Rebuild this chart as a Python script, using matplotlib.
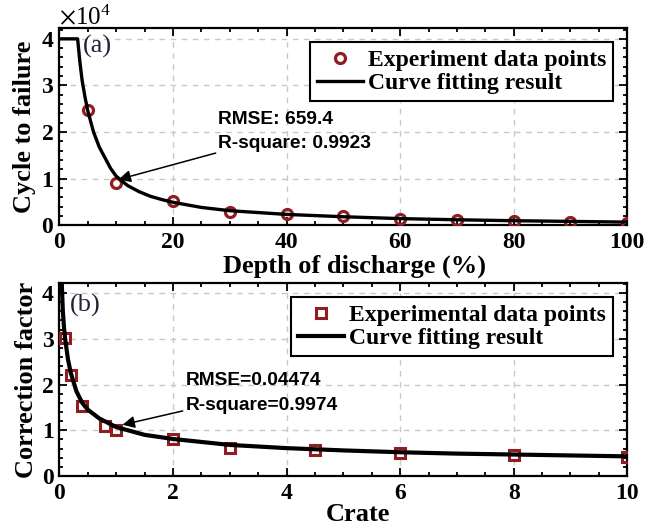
import matplotlib
matplotlib.use('Agg')
import matplotlib.pyplot as plt
from matplotlib.ticker import MultipleLocator, ScalarFormatter

plt.rcParams['font.family'] = 'Liberation Serif'
plt.rcParams['mathtext.fontset'] = 'stix'

# (a) cycle life vs depth of discharge
dod = [5, 10, 20, 30, 40, 50, 60, 70, 80, 90, 100]
cycles = [24700, 9000, 5200, 2800, 2400, 2000, 1300, 1100, 900, 700, 500]
fit_dod = [0, 3.2, 3.6, 4, 4.5, 5, 6, 7, 8, 9, 10, 12, 14, 16, 18, 20, 25, 30,
           35, 40, 50, 60, 70, 80, 90, 100]
fit_cycles = [40000, 40000, 35000, 31000, 27500, 24500, 20000, 16800, 14500,
              12200, 10500, 8500, 7200, 6200, 5500, 4900, 3800, 3100, 2700,
              2300, 1800, 1400, 1150, 950, 800, 650]

# (b) correction factor vs C-rate
crate = [0.1, 0.2, 0.4, 0.8, 1, 2, 3, 4.5, 6, 8, 10]
factor = [3.02, 2.2, 1.52, 1.1, 1.0, 0.82, 0.62, 0.56, 0.51, 0.47, 0.41]
fit_crate = [0.04, 0.06, 0.08, 0.1, 0.15, 0.2, 0.3, 0.4, 0.5, 0.7, 1.0, 1.5,
             2, 3, 4, 5, 6, 7, 8, 9, 10]
fit_factor = [4.25, 3.6, 3.25, 3.0, 2.55, 2.25, 1.85, 1.6, 1.45, 1.26, 1.07,
              0.9, 0.81, 0.68, 0.61, 0.56, 0.52, 0.49, 0.47, 0.45, 0.43]

red = '#8f1d21'
lab = dict(fontsize=19, fontweight='bold')

fig = plt.figure(figsize=(6.68, 5.26), dpi=100)
ax1 = fig.add_axes([0.089, 0.572, 0.850, 0.3745])
ax2 = fig.add_axes([0.089, 0.095, 0.850, 0.367])


def style(ax):
    ax.grid(True, which='major', color='#c8c8c8', linestyle=(0, (4, 4)), lw=1)
    ax.set_axisbelow(True)
    ax.tick_params(which='both', direction='in', top=True, right=True,
                   width=1.3, labelsize=17)
    ax.tick_params(which='major', length=6)
    ax.tick_params(which='minor', length=3)
    ax.tick_params(axis='x', pad=5)
    ax.tick_params(axis='y', pad=4)
    for s in ax.spines.values():
        s.set_linewidth(1.6)
    for t in ax.get_xticklabels() + ax.get_yticklabels():
        t.set_fontweight('bold')


def legend(ax):
    leg = ax.legend(loc='upper right', prop=dict(weight='bold', size=17),
                    frameon=True, fancybox=False, edgecolor='k', framealpha=1,
                    handlelength=1.95, handletextpad=0.2, borderpad=0.3,
                    labelspacing=0.08, borderaxespad=0.6)
    leg.get_frame().set_linewidth(1.5)


# top panel
ax1.plot(dod, cycles, 'o', ms=7.2, mfc='none', mec=red, mew=2.3,
         label='Experiment data points', zorder=3)
ax1.plot(fit_dod, fit_cycles, '-', color='k', lw=2.4,
         label='Curve fitting result', zorder=4)
ax1.set_xlim(0, 100)
ax1.set_ylim(0, 42300)
ax1.xaxis.set_major_locator(MultipleLocator(20))
ax1.xaxis.set_minor_locator(MultipleLocator(5))
ax1.yaxis.set_major_locator(MultipleLocator(10000))
ax1.yaxis.set_minor_locator(MultipleLocator(2000))
fmt = ScalarFormatter(useMathText=True)
fmt.set_powerlimits((0, 0))
ax1.yaxis.set_major_formatter(fmt)
ax1.yaxis.get_offset_text().set_fontsize(18)
ax1.set_xlabel('Depth of discharge (%)', labelpad=1, **lab)
ax1.xaxis.label.set_x(0.52)
ax1.set_ylabel('Cycle to failure', labelpad=3, **lab)
style(ax1)
ax1.text(6.7, 38400, '(a)', fontsize=19, color='#222238', ha='center', va='center')
ax1.annotate('RMSE: 659.4\nR-square: 0.9923', xy=(10.4, 9800), xytext=(28, 20100),
             fontsize=13.8, fontweight='bold', family='Liberation Sans',
             va='center', ha='left', linespacing=1.6,
             arrowprops=dict(arrowstyle='-|>', color='k', lw=1.1,
                             shrinkA=0, shrinkB=0, mutation_scale=18))
legend(ax1)

# bottom panel
ax2.plot(crate, factor, 's', ms=6.8, mfc='none', mec=red, mew=2.2,
         label='Experimental data points', zorder=3)
ax2.plot(fit_crate, fit_factor, '-', color='k', lw=3.0,
         label='Curve fitting result', zorder=4)
ax2.set_xlim(0, 10)
ax2.set_ylim(0, 4.22)
ax2.xaxis.set_major_locator(MultipleLocator(2))
ax2.xaxis.set_minor_locator(MultipleLocator(0.5))
ax2.yaxis.set_major_locator(MultipleLocator(1))
ax2.yaxis.set_minor_locator(MultipleLocator(0.2))
ax2.set_xlabel('Crate', labelpad=-1, **lab)
ax2.xaxis.label.set_x(0.525)
ax2.set_ylabel('Correction factor', labelpad=3, **lab)
style(ax2)
ax2.text(0.45, 3.72, '(b)', fontsize=19, color='#222238', ha='center', va='center')
ax2.annotate('RMSE=0.04474\nR-square=0.9974', xy=(1.11, 1.12), xytext=(2.22, 1.82),
             fontsize=13.8, fontweight='bold', family='Liberation Sans',
             va='center', ha='left', linespacing=1.6,
             arrowprops=dict(arrowstyle='-|>', color='k', lw=1.1,
                             shrinkA=0, shrinkB=0, mutation_scale=18))
legend(ax2)

fig.savefig('out.png', dpi=100)
